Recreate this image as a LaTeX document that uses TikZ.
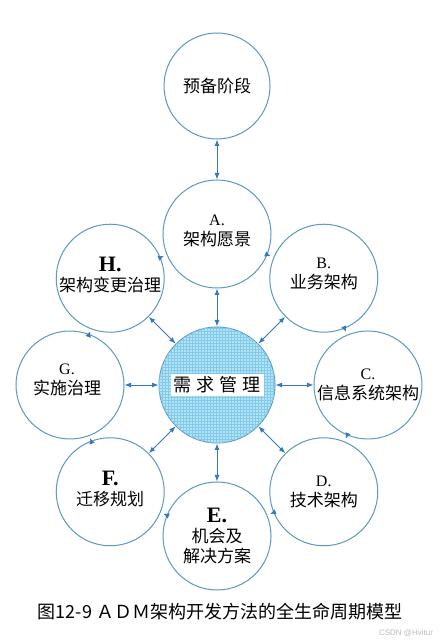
\documentclass[tikz,border=0pt]{standalone}
\usepackage{fontspec}
\setmainfont{Noto Sans CJK SC}
\newfontfamily\idfont{Liberation Serif}
\newfontfamily\markfont{Liberation Sans}
\usetikzlibrary{arrows.meta,patterns,decorations.markings,positioning}
\definecolor{ringline}{RGB}{92,152,194}
\definecolor{linkblue}{RGB}{52,120,194}
\definecolor{corefill}{RGB}{176,228,246}
\definecolor{coregrid}{RGB}{132,202,232}
\newcommand{\phaseid}[1]{{\idfont\fontsize{16}{18}\selectfont #1}}
\newcommand{\phaseidbig}[1]{{\idfont\bfseries\fontsize{22}{22}\selectfont #1}}

\begin{document}
\begin{tikzpicture}[x=1pt, y=1pt, node distance=151pt,
ring_phase/.style={circle, draw=ringline, fill=white, line width=1pt, minimum size=108pt, inner sep=0pt},
core_phase/.style={circle, draw=ringline, fill=corefill, line width=1pt, minimum size=116pt, inner sep=0pt, postaction={pattern=grid, pattern color=coregrid}},
phase_text/.style={align=center, font=\fontsize{17}{20}\selectfont, inner sep=0pt},
core_text/.style={fill=white, font=\fontsize{18}{18}\selectfont, inner xsep=3pt, inner ysep=3pt},
bi_arrow/.style={linkblue, line width=0.9pt, {Latex[length=6.5pt,width=5pt]}-{Latex[length=6.5pt,width=5pt]}},
ring_flow/.style={linkblue, postaction={decorate}, decoration={markings, mark=at position 0.5 with {\arrow{Latex[length=5.5pt,width=5.5pt]}}}}]
    \useasboundingbox (0,0) rectangle (442,643);
    % Nodes
    \node (req) at (217,258) [core_phase] {};
    \node (A) [above of=req, ring_phase] {};
    \node (prep) [above of=A, yshift=-3pt, ring_phase, minimum size=106pt] {};
    \node (B) [above right of=req, ring_phase] {};
    \node (C) [right of=req, ring_phase] {};
    \node (D) [below right of=req, ring_phase] {};
    \node (E) [below of=req, ring_phase] {};
    \node (F) [below left of=req, ring_phase] {};
    \node (G) [left of=req, xshift=4pt, ring_phase] {};
    \node (H) [above left of=req, ring_phase] {};

    % Texts
    \node (req_text) at (req) [core_text] {需\hspace{5pt}求\hspace{5pt}管\hspace{5pt}理};
    \node (prep_text) at (prep) [phase_text] {预备阶段};
    \node (A_text) at (A) [phase_text, yshift=3pt] {\phaseid{A.}\\架构愿景};
    \node (B_text) at (B) [phase_text, yshift=4pt] {\phaseid{B.}\\业务架构};
    \node (C_text) at (C) [phase_text] {\phaseid{C.}\\信息系统架构};
    \node (D_text) at (D) [phase_text] {\phaseid{D.}\\技术架构};
    \node (E_text) at (E) [phase_text] {\phaseidbig{E.}\\机会及\\解决方案};
    \node (F_text) at (F) [phase_text, yshift=3pt] {\phaseidbig{F.}\\迁移规划};
    \node (G_text) at (G) [phase_text, xshift=-3pt, yshift=5pt] {\phaseid{G.}\\实施治理};
    \node (H_text) at (H) [phase_text, yshift=3pt] {\phaseidbig{H.}\\架构变更治理};
    \node (caption) at (220,31) [font=\fontsize{18}{18}\selectfont] {图12-9 ＡＤＭ架构开发方法的全生命周期模型};
    \node (watermark) at (406,10) [font=\markfont\fontsize{8}{9}\selectfont, text=gray!55] {CSDN @Hvitur};

    % Arrows
    \draw[bi_arrow] (prep) -- (A);
    \draw[bi_arrow] (req) -- (A);
    \draw[bi_arrow] (req) -- (B);
    \draw[bi_arrow] (req) -- (C);
    \draw[bi_arrow] (req) -- (D);
    \draw[bi_arrow] (req) -- (E);
    \draw[bi_arrow] (req) -- (F);
    \draw[bi_arrow] (req) -- (G);
    \draw[bi_arrow] (req) -- (H);
    % cycle A -> H
    \path[ring_flow] (A) -- (B);
    \path[ring_flow] (B) -- (C);
    \path[ring_flow] (C) -- (D);
    \path[ring_flow] (D) -- (E);
    \path[ring_flow] (E) -- (F);
    \path[ring_flow] (F) -- (G);
    \path[ring_flow] (G) -- (H);
    \path[ring_flow] (H) -- (A);
\end{tikzpicture}
\end{document}
